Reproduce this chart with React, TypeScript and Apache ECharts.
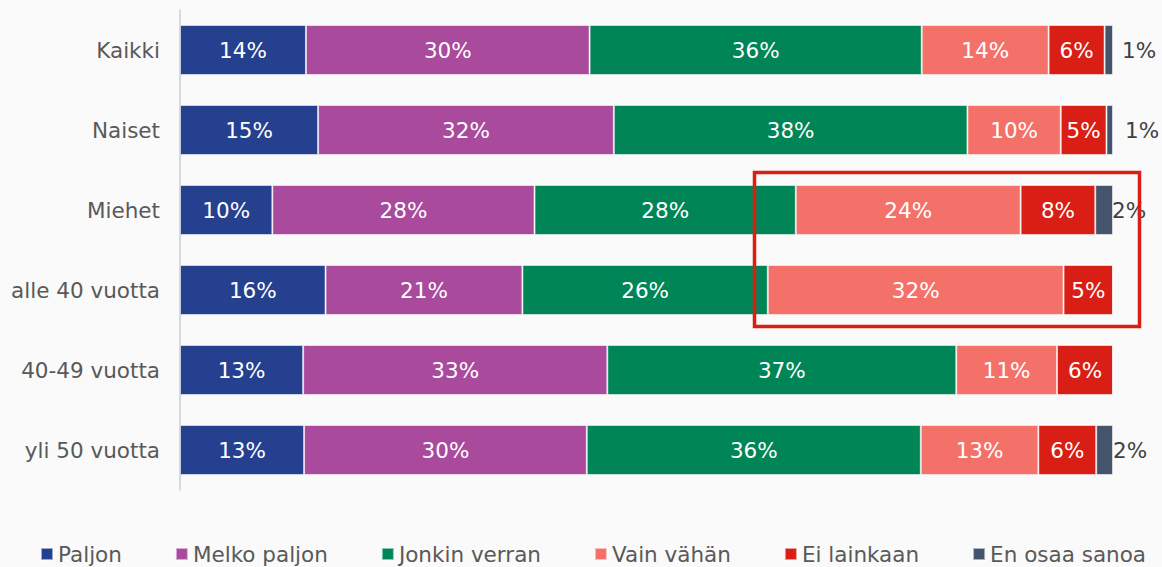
import React, { useEffect, useRef } from "react";
import * as echarts from "echarts";

const categories = ["Kaikki", "Naiset", "Miehet", "alle 40 vuotta", "40-49 vuotta", "yli 50 vuotta"];
const seriesNames = ["Paljon", "Melko paljon", "Jonkin verran", "Vain vähän", "Ei lainkaan", "En osaa sanoa"];

const paljon = [13.5, 14.8, 9.9, 15.6, 13.2, 13.3];
const melkoPaljon = [30.4, 31.7, 28.1, 21.1, 32.6, 30.3];
const jonkinVerran = [35.6, 37.9, 28.0, 26.3, 37.4, 35.8];
const vainVahan = [13.6, 10.0, 24.1, 31.7, 10.8, 12.6];
const eiLainkaan = [6.0, 4.9, 8.0, 5.3, 6.0, 6.2];
const enOsaaSanoa = [0.9, 0.7, 1.9, 0, 0, 1.8];

const seriesValues = [paljon, melkoPaljon, jonkinVerran, vainVahan, eiLainkaan, enOsaaSanoa];
const colors = ["#25408f", "#a94a9c", "#008556", "#f4716a", "#d91e15", "#44546a"];

// label offsets (styling) for the small last segment
const outsideLabelDistance = [9, 12, -1, 0, 0, 0];

const FONT = "DejaVu Sans, Verdana, sans-serif";

export default function App() {
  const ref = useRef<HTMLDivElement>(null);

  useEffect(() => {
    if (!ref.current) return;
    const chart = echarts.init(ref.current, undefined, { renderer: "svg" });

    const series = seriesNames.map((name, si) => {
      const isLast = si === seriesNames.length - 1;
      return {
        name,
        type: "bar",
        stack: "total",
        barWidth: 50,
        itemStyle: {
          color: colors[si],
          borderColor: "rgba(255,255,255,0.55)",
          borderWidth: 1,
        },
        label: {
          show: true,
          position: isLast ? "right" : "inside",
          color: isLast ? "#404040" : "#ffffff",
          fontSize: 21.5,
          fontFamily: FONT,
          formatter: (p: any) => (p.value > 0 ? Math.round(p.value) + "%" : ""),
        },
        data: seriesValues[si].map((v, i) =>
          isLast
            ? { value: v, label: { distance: outsideLabelDistance[i] } }
            : v
        ),
      };
    });

    chart.setOption({
      animation: false,
      backgroundColor: "#fafafa",
      textStyle: { fontFamily: FONT },
      grid: { left: 180, right: 49, top: 10, bottom: 77, containLabel: false },
      xAxis: {
        type: "value",
        min: 0,
        max: 100,
        show: false,
        splitLine: { show: false },
      },
      yAxis: {
        type: "category",
        inverse: true,
        data: categories,
        axisLine: { show: true, lineStyle: { color: "#d9d9d9", width: 2 } },
        axisTick: { show: false },
        axisLabel: { color: "#595959", fontSize: 21.5, fontFamily: FONT, margin: 20 },
      },
      legend: {
        data: seriesNames,
        left: 40,
        top: 543,
        itemGap: 53,
        itemWidth: 12,
        itemHeight: 12,
        icon: "rect",
        textStyle: { color: "#595959", fontSize: 21.5, fontFamily: FONT, padding: [0, 0, 0, 0] },
        padding: 0,
      },
      graphic: [
        {
          type: "rect",
          left: 752,
          top: 170,
          shape: { width: 385, height: 154 },
          style: { fill: "none", stroke: "#d91e15", lineWidth: 3.5 },
          z: 100,
        },
      ],
      series,
    });

    return () => chart.dispose();
  }, []);

  return (
    <div
      ref={ref}
      style={{ position: "fixed", left: 0, top: 0, width: 1162, height: 567 }}
    />
  );
}
